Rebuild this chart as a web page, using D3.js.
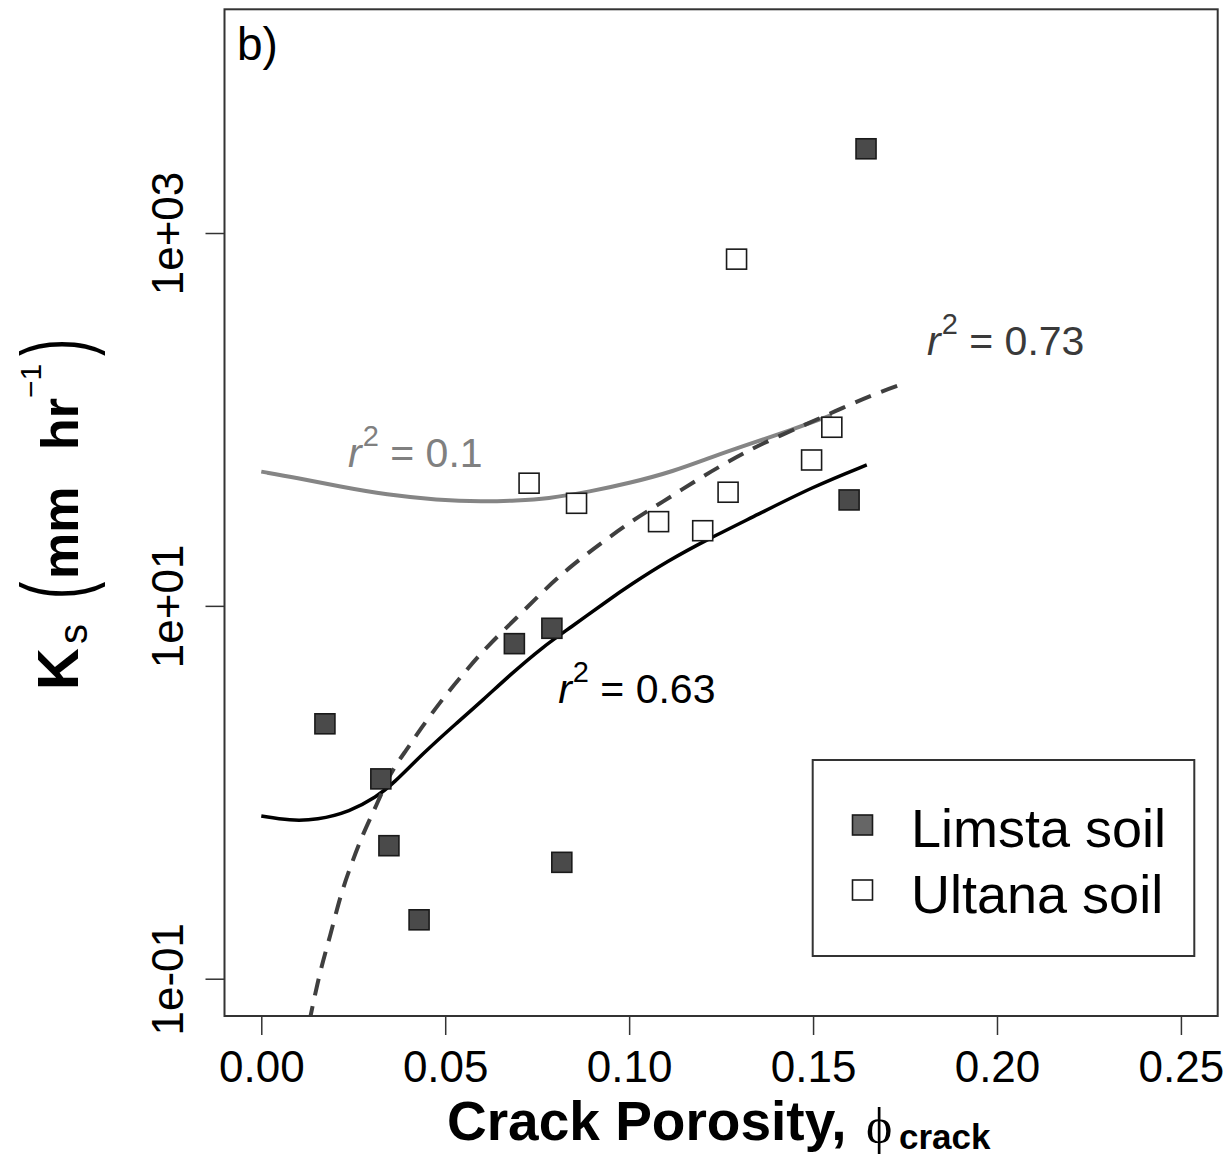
<!DOCTYPE html>
<html>
<head>
<meta charset="utf-8">
<script src="https://d3js.org/d3.v7.min.js"></script>
<style>
  body { margin: 0; background: #fff; }
  svg { display: block; font-family: "Liberation Sans", Arial, sans-serif; }
</style>
</head>
<body>
<div id="chart"></div>
<script>
// axis ticks
const xTickValues = [0, 0.05, 0.10, 0.15, 0.20, 0.25];
const xTickLabels = ["0.00", "0.05", "0.10", "0.15", "0.20", "0.25"];
const yTickValues = [0.1, 10, 1000];
const yTickLabels = ["1e-01", "1e+01", "1e+03"];

// measured points
const limstaPorosity = [0.0173, 0.0325, 0.0347, 0.0429, 0.0688, 0.0790, 0.0817, 0.1598, 0.1644];
const limstaKs = [2.33, 1.18, 0.517, 0.207, 6.27, 7.58, 0.421, 37.0, 2830];
const ultanaPorosity = [0.0728, 0.0857, 0.1080, 0.1200, 0.1269, 0.1292, 0.1496, 0.1551];
const ultanaKs = [45.5, 35.5, 28.3, 25.3, 40.7, 724, 60.6, 90.8];

// fitted curves
const limstaFitPorosity = [0, 0.0078, 0.0151, 0.0241, 0.0314, 0.0358, 0.0440, 0.0531, 0.0603, 0.0676, 0.0766, 0.0839, 0.0948, 0.1002, 0.1102, 0.1220, 0.1347, 0.1500, 0.1646];
const limstaFitKs = [0.746, 0.704, 0.710, 0.787, 0.947, 1.11, 1.62, 2.35, 3.13, 4.26, 6.04, 7.61, 10.9, 12.9, 17.3, 23.1, 30.7, 43.6, 57.0];
const ultanaFitPorosity = [0, 0.0096, 0.0214, 0.0341, 0.0477, 0.0603, 0.0694, 0.0776, 0.0894, 0.1002, 0.1119, 0.1228, 0.1320, 0.1437, 0.1551];
const ultanaFitKs = [52.5, 48.6, 43.6, 39.4, 37.0, 36.2, 36.7, 37.5, 41.0, 45.6, 52.5, 63.2, 73.0, 87.3, 105.7];
const allFitPorosity = [0.0130, 0.0160, 0.0187, 0.0214, 0.0241, 0.0277, 0.0314, 0.0350, 0.0395, 0.0431, 0.0494, 0.0558, 0.0613, 0.0694, 0.0766, 0.0839, 0.0929, 0.1011, 0.1092, 0.1184, 0.1269, 0.1364, 0.1478, 0.1568, 0.1660, 0.1744];
const allFitKs = [0.058, 0.111, 0.168, 0.275, 0.393, 0.605, 0.855, 1.27, 1.69, 2.16, 3.2, 4.53, 6.04, 8.61, 12.0, 16.2, 22.1, 28.9, 36.2, 47.4, 59.4, 74.8, 93.5, 112.5, 135.4, 155.1];

// legend and annotations
const legendLabels = ["Limsta soil", "Ultana soil"];
const fitLabels = ["0.1", "0.63", "0.73"];
const fitLabelPorosity = [0.0236, 0.0807, 0.1810];
const fitLabelKs = [55.6, 3.01, 222];

const width = 1230, height = 1158;
const plotLeft = 224.5, plotRight = 1217.7, plotTop = 9.3, plotBottom = 1016;

const svg = d3.select('#chart').append('svg')
    .attr('width', width)
    .attr('height', height);

const xScale = d3.scaleLinear().domain([-0.01, 0.26]).range([plotLeft, plotRight]);
const yScale = d3.scaleLog().domain([Math.pow(10, -1.2), Math.pow(10, 4.2)]).range([plotBottom, plotTop]);

svg.append('defs').append('clipPath').attr('id', 'plotClip')
    .append('rect')
        .attr('x', plotLeft).attr('y', plotTop)
        .attr('width', plotRight - plotLeft).attr('height', plotBottom - plotTop);

// fitted lines
const line = d3.line()
    .x(d => xScale(d[0]))
    .y(d => yScale(d[1]))
    .curve(d3.curveBasis);

const lines = svg.append('g').attr('clip-path', 'url(#plotClip)');

lines.append('path')
    .datum(d3.zip(ultanaFitPorosity, ultanaFitKs))
    .attr('d', line)
    .attr('fill', 'none')
    .attr('stroke', '#858585')
    .attr('stroke-width', 4);

lines.append('path')
    .datum(d3.zip(limstaFitPorosity, limstaFitKs))
    .attr('d', line)
    .attr('fill', 'none')
    .attr('stroke', '#000')
    .attr('stroke-width', 3.5);

lines.append('path')
    .datum(d3.zip(allFitPorosity, allFitKs))
    .attr('d', line)
    .attr('fill', 'none')
    .attr('stroke', '#3f3f3f')
    .attr('stroke-width', 4)
    .attr('stroke-dasharray', '17,11');

// points
const sq = 20;
svg.append('g').selectAll('rect')
    .data(d3.zip(ultanaPorosity, ultanaKs))
    .enter().append('rect')
        .attr('x', d => xScale(d[0]) - sq / 2)
        .attr('y', d => yScale(d[1]) - sq / 2)
        .attr('width', sq).attr('height', sq)
        .attr('fill', '#fff')
        .attr('stroke', '#1a1a1a')
        .attr('stroke-width', 1.6);

svg.append('g').selectAll('rect')
    .data(d3.zip(limstaPorosity, limstaKs))
    .enter().append('rect')
        .attr('x', d => xScale(d[0]) - sq / 2)
        .attr('y', d => yScale(d[1]) - sq / 2)
        .attr('width', sq).attr('height', sq)
        .attr('fill', '#4a4a4a')
        .attr('stroke', '#1a1a1a')
        .attr('stroke-width', 1.6);

// r^2 annotations
const labelColours = ['#808080', '#000000', '#3a3a3a'];
fitLabels.forEach((lab, i) => {
    const t = svg.append('text')
        .attr('x', xScale(fitLabelPorosity[i]))
        .attr('y', yScale(fitLabelKs[i]))
        .attr('fill', labelColours[i])
        .style('font-size', '41px');
    t.append('tspan').style('font-style', 'italic').text('r');
    t.append('tspan').attr('dy', -21).attr('dx', 1).style('font-size', '29px').text('2');
    t.append('tspan').attr('dy', 21).text('\u00a0= ' + lab);
});

// x axis
const xAxis = svg.append('g')
    .attr('transform', `translate(0, ${plotBottom})`)
    .call(d3.axisBottom(xScale)
        .tickValues(xTickValues)
        .tickFormat((d, i) => xTickLabels[i])
        .tickSize(19)
        .tickSizeOuter(0));
xAxis.select('.domain').remove();
xAxis.selectAll('line').attr('stroke', '#333').attr('stroke-width', 1.5);
xAxis.selectAll('text')
    .attr('y', 66).attr('dy', 0)
    .attr('fill', '#000')
    .style('font-size', '44px')
    .style('font-family', '"Liberation Sans", Arial, sans-serif');

// y axis
const yAxis = svg.append('g')
    .attr('transform', `translate(${plotLeft}, 0)`)
    .call(d3.axisLeft(yScale)
        .tickValues(yTickValues)
        .tickFormat((d, i) => yTickLabels[i])
        .tickSize(19)
        .tickSizeOuter(0));
yAxis.select('.domain').remove();
yAxis.selectAll('line').attr('stroke', '#333').attr('stroke-width', 1.5);
yAxis.selectAll('text')
    .attr('transform', 'rotate(-90)')
    .attr('x', 0).attr('y', -(plotLeft - 182.7)).attr('dy', 0)
    .attr('text-anchor', 'middle')
    .attr('fill', '#000')
    .style('font-size', '44px')
    .style('font-family', '"Liberation Sans", Arial, sans-serif');

// plot box
svg.append('rect')
    .attr('x', plotLeft).attr('y', plotTop)
    .attr('width', plotRight - plotLeft).attr('height', plotBottom - plotTop)
    .attr('fill', 'none')
    .attr('stroke', '#333')
    .attr('stroke-width', 2);

// panel letter
svg.append('text')
    .attr('x', 237).attr('y', 60)
    .style('font-size', '46px')
    .text('b)');

// x title
const xt = svg.append('g');
xt.append('text')
    .attr('x', 447).attr('y', 1140)
    .style('font-size', '55px').style('font-weight', 'bold')
    .text('Crack Porosity,');
xt.append('text')
    .attr('x', 866).attr('y', 1143)
    .style('font-size', '50px')
    .style('font-family', '"Liberation Serif", "DejaVu Serif", serif')
    .text('\u03d5');
xt.append('text')
    .attr('x', 899).attr('y', 1149)
    .style('font-size', '35px').style('font-weight', 'bold')
    .text('crack');

// y title, rotated
const yt = svg.append('g').attr('transform', 'rotate(-90)');
yt.append('text').attr('x', -690).attr('y', 78)
    .style('font-size', '58px').style('font-weight', 'bold').text('K');
yt.append('text').attr('x', -644).attr('y', 87)
    .style('font-size', '40px').text('s');
yt.append('text').attr('transform', 'translate(-599, 86) scale(1, 1.8)')
    .style('font-size', '52px').text('(');
yt.append('text').attr('x', -579).attr('y', 78)
    .style('font-size', '52px').style('font-weight', 'bold').text('mm');
yt.append('text').attr('x', -450).attr('y', 78)
    .style('font-size', '52px').style('font-weight', 'bold').text('hr');
yt.append('text').attr('x', -398).attr('y', 41)
    .style('font-size', '30px').text('\u22121');
yt.append('text').attr('transform', 'translate(-356, 86) scale(1, 1.8)')
    .style('font-size', '52px').text(')');

// legend
const legend = svg.append('g');
legend.append('rect')
    .attr('x', 812.7).attr('y', 760)
    .attr('width', 381.6).attr('height', 196)
    .attr('fill', '#fff')
    .attr('stroke', '#333')
    .attr('stroke-width', 2);
const legendFill = ['#666666', '#ffffff'];
legendLabels.forEach((lab, i) => {
    legend.append('rect')
        .attr('x', 852.5).attr('y', 815 + i * 65)
        .attr('width', sq).attr('height', sq)
        .attr('fill', legendFill[i])
        .attr('stroke', '#1a1a1a')
        .attr('stroke-width', 1.6);
    legend.append('text')
        .attr('x', 911).attr('y', 847 + i * 66)
        .style('font-size', '54px')
        .text(lab);
});
</script>
</body>
</html>
